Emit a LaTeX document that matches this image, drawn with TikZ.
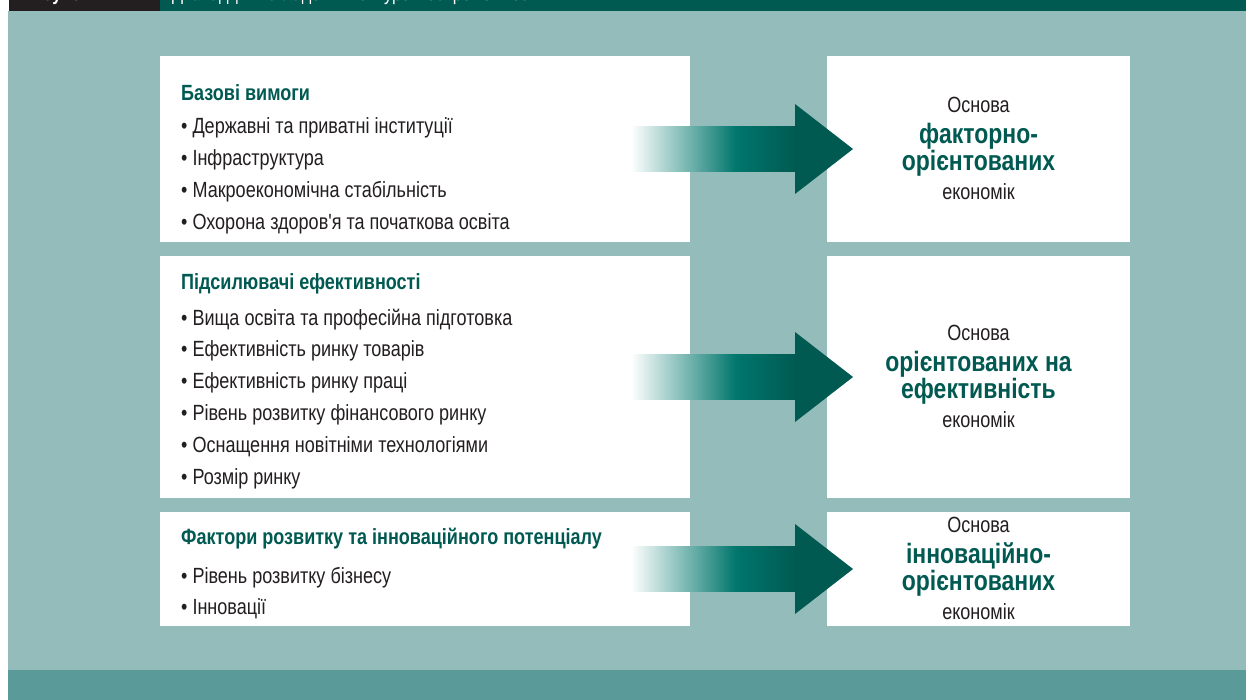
\documentclass[tikz,border=0pt]{standalone}
\usepackage{fontspec}
\setmainfont{Liberation Sans}[FakeStretch=0.82, Ligatures=TeXOff]
\usetikzlibrary{calc}

\definecolor{bgteal}{RGB}{148,188,186}
\definecolor{bandteal}{RGB}{90,155,153}
\definecolor{darkteal}{RGB}{0,90,82}
\definecolor{midteal}{RGB}{0,118,108}
\definecolor{inkgray}{RGB}{35,31,32}

\pgfdeclarehorizontalshading{arrowfade}{100bp}{color(0bp)=(white); color(25bp)=(white); color(57bp)=(midteal); color(75bp)=(darkteal); color(100bp)=(darkteal)}

\newcommand{\grouptitle}[1]{{\bfseries\color{darkteal}#1}}
\newcommand{\bigword}[1]{{\fontsize{28}{25.5}\selectfont\bfseries\color{darkteal}#1}}
\newcommand{\bigarrow}[2]{%
    \shade[shading=arrowfade] ($(#1.east)+(-59,-22.5)$) rectangle ($(#2.west)+(-31.5,22.5)$);
    \fill[darkteal] ($(#2.west)+(-32,-45)$) -- ($(#2.west)+(26,0)$) -- ($(#2.west)+(-32,45)$) -- cycle;
}

\tikzset{
    whitebox/.style={fill=white, anchor=north west, inner sep=0, outer sep=0},
    listtext/.style={anchor=north west, inner sep=0, align=left, text=inkgray,
        font=\fontsize{22}{31.8}\selectfont},
    outtext/.style={inner sep=0, align=center, text=inkgray,
        font=\fontsize{22}{25.5}\selectfont},
    headtext/.style={anchor=base west, inner sep=0, text=white}
}

\begin{document}
\begin{tikzpicture}[x=1pt, y=-1pt]
    \useasboundingbox (0, 0) rectangle (1246, 700);
    \fill[white] (0, 0) rectangle (1246, 700);

    \fill[inkgray] (9, 0) rectangle (160, 11);
    \fill[darkteal] (160, 0) rectangle (1246, 11);
    \fill[bgteal] (8, 11) rectangle (1246, 670);
    \fill[bandteal] (8, 670) rectangle (1246, 700);

    \node[headtext, font=\bfseries\fontsize{20}{24}\selectfont] (fignum) at (22, 1) {Рисунок 1:};
    \node[headtext, font=\fontsize{20}{24}\selectfont] (figtitle) at (172, 1) {Дванадцять складових конкурентоспроможності};

    \node[whitebox, minimum width=530, minimum height=186] (inA) at (160, 56) {};
    \node[whitebox, minimum width=530, minimum height=242] (inB) at (160, 256) {};
    \node[whitebox, minimum width=530, minimum height=114] (inC) at (160, 512) {};

    \node[whitebox, minimum width=303, minimum height=186] (outA) at (827, 56) {};
    \node[whitebox, minimum width=303, minimum height=242] (outB) at (827, 256) {};
    \node[whitebox, minimum width=303, minimum height=114] (outC) at (827, 512) {};

    \node[listtext] (listA) at (181, 100 - 22.26) {\strut\grouptitle{Базові вимоги}\\[2pt]
        • Державні та приватні інституції\\
        • Інфраструктура\\
        • Макроекономічна стабільність\\
        • Охорона здоров'я та початкова освіта};

    \node[listtext] (listB) at (181, 289 - 22.26) {\strut\grouptitle{Підсилювачі ефективності}\\[4pt]
        • Вища освіта та професійна підготовка\\
        • Ефективність ринку товарів\\
        • Ефективність ринку праці\\
        • Рівень розвитку фінансового ринку\\
        • Оснащення новітніми технологіями\\
        • Розмір ринку};

    \node[listtext] (listC) at (181, 544 - 22.26) {\strut\grouptitle{Фактори розвитку та інноваційного потенціалу}\\[7pt]
        • Рівень розвитку бізнесу\\
        • Інновації};

    \bigarrow{inA}{outA}
    \bigarrow{inB}{outB}
    \bigarrow{inC}{outC}

    \node[outtext] (textA) at ([yshift=1]outA.center) {Основа\\[5.5pt]\bigword{факторно-}\\\bigword{орієнтованих}\\[3.5pt]економік};
    \node[outtext] (textB) at ([yshift=1]outB.center) {Основа\\[5.5pt]\bigword{орієнтованих на}\\\bigword{ефективність}\\[3.5pt]економік};
    \node[outtext] (textC) at ([yshift=1]outC.center) {Основа\\[5.5pt]\bigword{інноваційно-}\\\bigword{орієнтованих}\\[3.5pt]економік};
\end{tikzpicture}
\end{document}
